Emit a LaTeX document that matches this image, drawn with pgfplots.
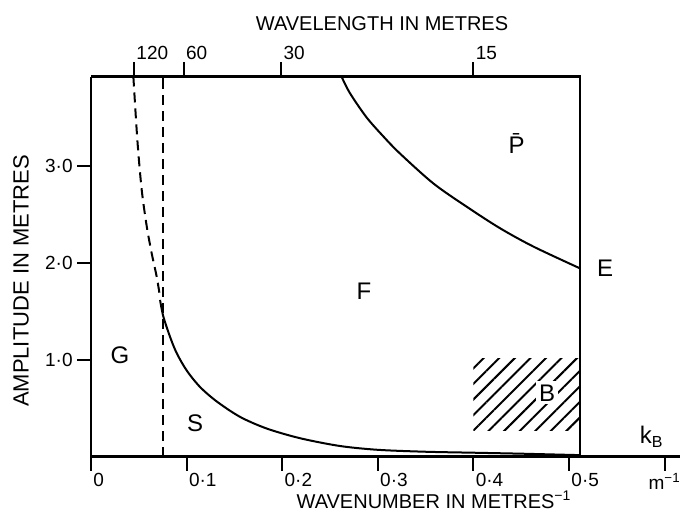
\documentclass[border=0pt]{standalone}
\usepackage{fontspec}
\setmainfont{Liberation Sans}
\usepackage{pgfplots}
\pgfplotsset{compat=1.18}
\usetikzlibrary{patterns.meta}

\begin{document}
\begin{tikzpicture}
\pgfplotsset{
  common/.style={
    scale only axis, width=294.4pt, height=190pt,
    xmin=0, xmax=0.616, ymin=0, ymax=3.93,
    clip=false,
    tick align=outside, major tick length=7pt,
    tick style={line width=1pt, black},
    axis line style={-, line width=1.2pt},
  }
}
% top wavelength axis
\begin{axis}[common,
  axis x line*=top, axis y line=none,
  x axis line style={draw=none},
  xtick={0.045,0.097,0.199,0.400},
  xticklabels={120,60,30,15},
  xticklabel style={anchor=south west, inner sep=1pt, font=\fontsize{9.5}{10}\selectfont},
]
\end{axis}
% main axis
\begin{axis}[common,
  axis x line*=bottom, axis y line*=left,
  xtick={0,0.1,0.2,0.3,0.4,0.5},
  xticklabels={0,0·1,0·2,0·3,0·4,0·5},
  extra x ticks={0.6},
  extra x tick labels={m\textsuperscript{−1}},
  extra x tick style={xticklabel style={anchor=north, inner sep=1pt}},
  ytick={1,2,3}, yticklabels={1·0,2·0,3·0},
  xticklabel style={anchor=north west, inner sep=1pt, font=\fontsize{9.5}{10}\selectfont},
  yticklabel style={inner sep=2pt, font=\fontsize{9.5}{10}\selectfont},
]
% bounding frame (same margins as reference)
\path (axis cs:-0.0952,4.721) rectangle (axis cs:0.6192,-0.553);
% box top and right edges
\draw[line width=1.2pt] (axis cs:0,3.93) -- (axis cs:0.5115,3.93) -- (axis cs:0.5115,0);
% hatched region B
\addplot[draw=none, pattern={Lines[angle=45,distance=5.5pt,line width=1pt]}]
  coordinates {(0.400,0.27) (0.5115,0.27) (0.5115,1.01) (0.400,1.01)} -- cycle;
% dashed vertical
\addplot[black, line width=1pt, dash pattern=on 5pt off 3pt]
  coordinates {(0.075,0) (0.075,3.93)};
% dashed curve
\addplot[black, line width=1pt, dash pattern=on 5pt off 3pt, smooth]
  coordinates {(0.0443,3.93) (0.0485,3.27) (0.0530,2.76) (0.0583,2.38) (0.0635,2.10) (0.0687,1.86) (0.0722,1.65)};
% lower solid curve
\addplot[black, line width=1pt, smooth]
  coordinates {(0.0722,1.62) (0.0756,1.45) (0.0826,1.24) (0.0896,1.07) (0.1001,0.89) (0.114,0.72) (0.1315,0.57) (0.156,0.41) (0.1838,0.29) (0.2186,0.19) (0.26,0.11) (0.30,0.07) (0.35,0.05) (0.40,0.04) (0.45,0.03) (0.5115,0.015)};
% upper solid curve
\addplot[black, line width=1pt, smooth]
  coordinates {(0.262,3.93) (0.2707,3.76) (0.288,3.51) (0.3058,3.31) (0.323,3.135) (0.358,2.825) (0.393,2.583) (0.428,2.36) (0.463,2.17) (0.5115,1.946)};
% region labels
\begin{scope}[font=\fontsize{12}{14}\selectfont]
\node at (axis cs:0.0303,1.05) {G};
\node at (axis cs:0.1088,0.343) {S};
\node at (axis cs:0.2856,1.71) {F};
\node at (axis cs:0.4453,3.24) {\={P}};
\node at (axis cs:0.5377,1.95) {E};
\node[fill=white, inner sep=1.5pt] at (axis cs:0.477,0.66) {B};
\node at (axis cs:0.5865,0.205) {k\textsubscript{B}};
\end{scope}
% axis titles
\node[anchor=base, font=\fontsize{10}{12}\selectfont] at (axis cs:0.3044,4.41) {WAVELENGTH IN METRES};
\node[anchor=base, font=\fontsize{10}{12}\selectfont] at (axis cs:0.3588,-0.533) {WAVENUMBER IN METRES\textsuperscript{−1}};
\node[rotate=90, font=\fontsize{11}{12}\selectfont] at (axis cs:-0.0732,1.815) {AMPLITUDE IN METRES};
\end{axis}
\end{tikzpicture}
\end{document}
